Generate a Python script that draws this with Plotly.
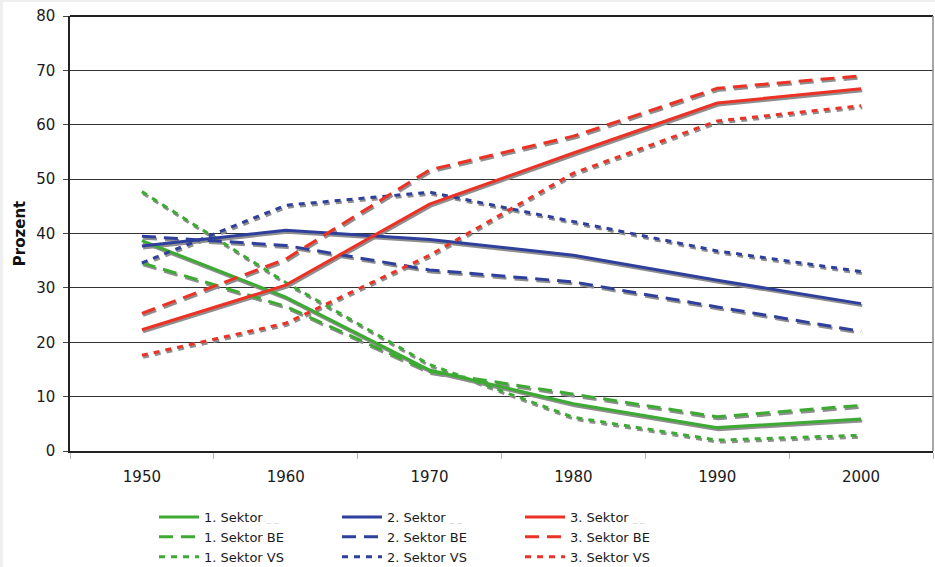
import plotly.graph_objects as go

# Sector shares of employment (percent), 1950-2000
years = [1950, 1960, 1970, 1980, 1990, 2000]

sektor1 = [38.7, 28.3, 14.9, 8.7, 4.3, 5.9]
sektor1_be = [34.6, 26.6, 14.6, 10.4, 6.3, 8.4]
sektor1_vs = [47.7, 31.0, 15.9, 6.2, 2.0, 2.9]

sektor2 = [37.7, 40.6, 38.9, 36.0, 31.4, 27.1]
sektor2_be = [39.5, 37.8, 33.3, 31.1, 26.5, 22.0]
sektor2_vs = [34.6, 45.2, 47.6, 42.2, 36.8, 33.0]

sektor3 = [22.3, 30.5, 45.4, 54.8, 64.0, 66.6]
sektor3_be = [25.3, 35.3, 51.7, 57.9, 66.7, 69.0]
sektor3_vs = [17.6, 23.5, 36.0, 51.1, 60.7, 63.5]

y_ticks = [0, 10, 20, 30, 40, 50, 60, 70, 80]

GREEN = "#3daa33"
BLUE = "#2f3f9c"
RED = "#ec3125"
SHADOW = "#8e8e8e"
DASH = "14px,8px"
DOT = "6px,6px"
FONT = "DejaVu Sans"
faint = " <span style='color:#d2d2d2;font-size:9px'>_ _</span>"

series = [
    ("1. Sektor" + faint, sektor1, GREEN, "solid", "legend"),
    ("1. Sektor BE", sektor1_be, GREEN, DASH, "legend"),
    ("1. Sektor VS", sektor1_vs, GREEN, DOT, "legend"),
    ("2. Sektor" + faint, sektor2, BLUE, "solid", "legend2"),
    ("2. Sektor BE", sektor2_be, BLUE, DASH, "legend2"),
    ("2. Sektor VS", sektor2_vs, BLUE, DOT, "legend2"),
    ("3. Sektor" + faint, sektor3, RED, "solid", "legend3"),
    ("3. Sektor BE", sektor3_be, RED, DASH, "legend3"),
    ("3. Sektor VS", sektor3_vs, RED, DOT, "legend3"),
]

W, H = 935, 567
L, R, T, B = 70, 2, 16, 116
plot_w = W - L - R
plot_h = H - T - B

x_range = [1945, 2005]
y_range = [0, 80]
# drop shadow offset in pixels (right, down) converted to axis units
sx = 1.2 * (x_range[1] - x_range[0]) / plot_w
sy = 2.0 * (y_range[1] - y_range[0]) / plot_h

fig = go.Figure()

# transparent trace so the base axes (grid, ticks, labels) are built
fig.add_trace(go.Scatter(
    x=years, y=sektor1, mode="lines", line=dict(width=0, color="rgba(0,0,0,0)"),
    showlegend=False, hoverinfo="skip"))

# shadows (middle layer)
for name, vals, color, dash, lg in series:
    fig.add_trace(go.Scatter(
        x=years, y=vals, mode="lines", xaxis="x2", yaxis="y2",
        line=dict(color=SHADOW, width=3, dash=dash),
        showlegend=False, hoverinfo="skip"))

# coloured lines (top layer)
for name, vals, color, dash, lg in series:
    fig.add_trace(go.Scatter(
        x=years, y=vals, mode="lines", xaxis="x3", yaxis="y3", name=name,
        line=dict(color=color, width=3, dash=dash), legend=lg))

hidden = dict(visible=False, fixedrange=True, showgrid=False, zeroline=False)

legend_common = dict(
    orientation="v", bgcolor="rgba(0,0,0,0)", borderwidth=0,
    font=dict(family=FONT, size=13, color="#1a1a1a"),
    xanchor="left", yanchor="top", itemwidth=40, tracegroupgap=0,
)
leg_y = 1 - (502 - T) / plot_h

fig.update_layout(
    width=W, height=H,
    margin=dict(l=L, r=R, t=T, b=B, autoexpand=False),
    paper_bgcolor="white", plot_bgcolor="white",
    font=dict(family=FONT, color="#1a1a1a"),
    xaxis=dict(
        range=x_range, tickvals=years, ticktext=[str(y) for y in years],
        ticks="", showgrid=False, zeroline=False,
        showline=True, linecolor="#222222", linewidth=1.5, mirror=False,
        tickfont=dict(family=FONT, size=15, color="#1a1a1a"),
        ticklabelstandoff=11,
        minor=dict(tick0=1945, dtick=10, ticks="outside", ticklen=6,
                   tickcolor="#b5b5b5", tickwidth=1, showgrid=False),
        fixedrange=True,
    ),
    yaxis=dict(
        range=y_range, tickvals=y_ticks, ticks="outside", ticklen=5,
        tickcolor="#444444", showgrid=True, gridcolor="#333333", gridwidth=1.3,
        zeroline=False, showline=True, linecolor="#222222", linewidth=1.5,
        tickfont=dict(family=FONT, size=15, color="#1a1a1a"),
        ticklabelstandoff=5,
        title=dict(text="<b>Prozent</b>", font=dict(family=FONT, size=15, color="#111111"),
                   standoff=7),
        fixedrange=True,
    ),
    xaxis2=dict(overlaying="x", range=[x_range[0] - sx, x_range[1] - sx], **hidden),
    yaxis2=dict(overlaying="y", range=[y_range[0] + sy, y_range[1] + sy], **hidden),
    xaxis3=dict(overlaying="x", range=x_range, **hidden),
    yaxis3=dict(overlaying="y", range=y_range, **hidden),
    legend=dict(x=(154 - L) / plot_w, y=leg_y, **legend_common),
    legend2=dict(x=(337 - L) / plot_w, y=leg_y, **legend_common),
    legend3=dict(x=(520 - L) / plot_w, y=leg_y, **legend_common),
    shapes=[
        # plot-area frame: top and right border
        dict(type="line", xref="paper", yref="paper", x0=0, x1=1, y0=1, y1=1,
             line=dict(color="#222222", width=2)),
        dict(type="line", xref="paper", yref="paper", x0=1, x1=1, y0=0, y1=1,
             line=dict(color="#8a8a8a", width=1.5)),
        # light grey page edge, left and top
        dict(type="rect", xref="paper", yref="paper",
             x0=-L / plot_w, x1=(3 - L) / plot_w, y0=-B / plot_h, y1=1 + T / plot_h,
             fillcolor="#efefef", line=dict(width=0)),
        dict(type="rect", xref="paper", yref="paper",
             x0=-L / plot_w, x1=1 + R / plot_w, y0=1 + (T - 2) / plot_h, y1=1 + T / plot_h,
             fillcolor="#efefef", line=dict(width=0)),
    ],
)

fig.write_html("out.html")
